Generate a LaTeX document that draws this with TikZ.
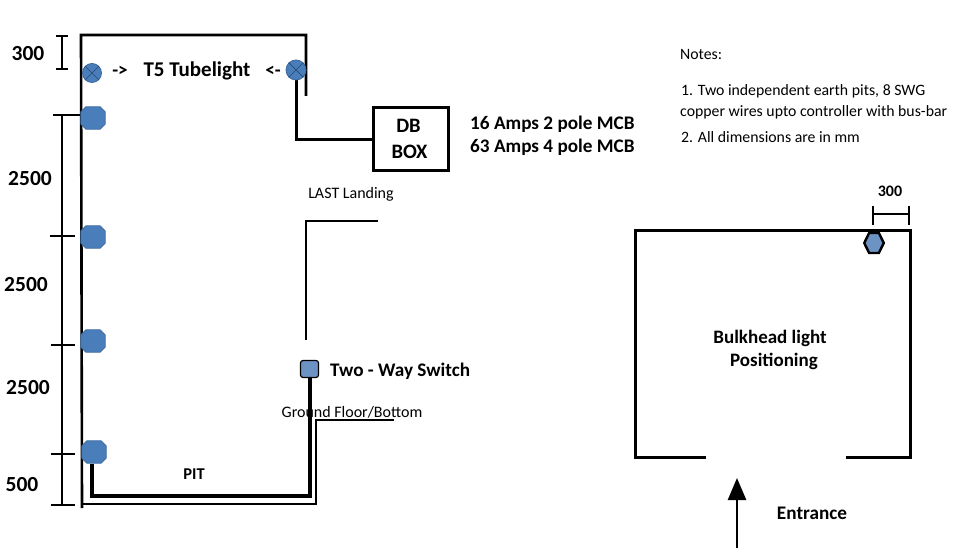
\documentclass[tikz,border=0pt]{standalone}
\usepackage{fontspec}
\setmainfont{Carlito}
\usetikzlibrary{shapes.geometric,shapes.misc,arrows.meta}
\definecolor{lampblue}{HTML}{4A7EBB}
\definecolor{swblue}{HTML}{6C93C4}
\definecolor{lampedge}{HTML}{3A679C}
\newcommand{\octalamp}[3]{%
  \node[minimum width=24pt,minimum height=22pt,inner sep=0pt] (#1) at (#2,#3) {};
  \filldraw[fill=lampblue,draw=lampedge,line width=.8pt]
    ([xshift=5pt]#1.north west) -- ([xshift=-5pt]#1.north east) -- ([yshift=-5pt]#1.north east)
    -- ([yshift=5pt]#1.south east) -- ([xshift=-5pt]#1.south east) -- ([xshift=5pt]#1.south west)
    -- ([yshift=5pt]#1.south west) -- ([yshift=-5pt]#1.north west) -- cycle;}
\tikzset{
  x=1pt,y=-1pt,
  wall/.style={draw=black,line width=2.6pt,line cap=butt,line join=miter},
  thinwall/.style={draw=black,line width=2pt},
  wire/.style={draw=black,line width=3.2pt},
  dbwire/.style={draw=black,line width=3pt},
  dim/.style={draw=black,line width=2pt},
  lbl/.style={font=\fontsize{19.2}{22}\selectfont\bfseries,inner sep=0pt},
  dimlbl/.style={font=\fontsize{21.5}{24}\selectfont\bfseries,inner sep=0pt},
  note/.style={font=\fontsize{15.8}{18}\selectfont,inner sep=0pt,anchor=west},
  small/.style={font=\fontsize{16}{18}\selectfont,inner sep=0pt},
}
\begin{document}
\begin{tikzpicture}
\useasboundingbox (0,0) rectangle (980,553);
% shaft
\coordinate (st) at (81,35);
\coordinate (srt) at (306,35);
\coordinate (srb) at (306,96);
\coordinate (slb) at (82,508);
\draw[wall] (slb) -- (st) -- (srt) -- (srb);
\coordinate (bl) at (82,504);
\coordinate (br) at (316,504);
\coordinate (bu) at (316,420);
\coordinate (be) at (394,420);
\draw[thinwall] (bl) -- (br) -- (bu) -- (be);
% last landing
\coordinate (ll1) at (306,340);
\coordinate (ll2) at (306,221);
\coordinate (ll3) at (378,221);
\draw[thinwall] (ll1) -- (ll2) -- (ll3);
% dims left
\coordinate (d1a) at (62,36); \coordinate (d1b) at (62,69);
\draw[dim] (d1a) -- (d1b);
\draw[dim] (56,36) -- (68,36) (56,69) -- (68,69);
\coordinate (d2a) at (62,115); \coordinate (d2b) at (62,505);
\draw[dim] (d2a) -- (d2b);
\draw[dim] (53,115) -- (80,115) (50,236) -- (75,236) (51,345) -- (75,345) (51,454) -- (75,454) (51,505) -- (75,505);
\node[dimlbl] (t300) at (28,54) {300};
\node[dimlbl] (t2500a) at (30,179) {2500};
\node[dimlbl] (t2500b) at (26,285) {2500};
\node[dimlbl] (t2500c) at (28,388) {2500};
\node[dimlbl] (t500) at (22,485) {500};
% wires
\node[draw=black,line width=2.8pt,minimum width=75pt,minimum height=63pt,inner sep=0pt,align=center,font=\fontsize{20.5}{26}\selectfont\bfseries] (db) at (411,139) {DB\kern5pt\\BOX\kern3pt};
\coordinate (w1) at (296,78);
\coordinate (w2) at (296,140);
\draw[dbwire] (w1) -- (w2) -- (db.west |- w2);
\node[rounded corners=2.5pt,draw=black,line width=1.2pt,fill=swblue,minimum width=18pt,minimum height=17pt,inner sep=0pt] (sw) at (309.5,369) {};
\coordinate (p1) at (92,464);
\coordinate (p2) at (92,496);
\coordinate (p3) at (310,496);
\draw[wire] (p1) -- (p2) -- (p3) -- (sw.south -| p3);
% lamps
\node[circle,fill=lampblue,draw=lampedge,line width=.8pt,minimum size=19pt,inner sep=0pt] (la) at (92,73) {};
\node[circle,fill=lampblue,draw=lampedge,line width=.8pt,minimum size=20pt,inner sep=0pt] (lb) at (296,70) {};
\draw[lampedge!70!black,line width=.7pt] (la.north west) -- (la.south east) (la.north east) -- (la.south west);
\draw[lampedge!70!black,line width=.7pt] (lb.north west) -- (lb.south east) (lb.north east) -- (lb.south west);
\octalamp{o1}{93}{118}
\octalamp{o2}{93}{237}
\octalamp{o3}{93}{341}
\octalamp{o4}{94}{452}
% labels
\node[lbl] at (120,71) {->};
\node[lbl,font=\fontsize{21}{24}\selectfont\bfseries] at (197,71) {T5 Tubelight};
\node[lbl] at (273,71) {<-};
\node[lbl,anchor=west] at (470,124) {16 Amps 2 pole MCB};
\node[lbl,anchor=west] at (470,147) {63 Amps 4 pole MCB};
\node[small] at (351,194) {LAST Landing};
\node[lbl,anchor=west] at (330,371) {Two - Way Switch};
\node[small] at (352,412) {Ground Floor/Bottom};
\node[font=\fontsize{16.5}{18}\selectfont\bfseries,inner sep=0pt] at (194,474) {PIT};
% notes
\node[note] at (680,54) {Notes:};
\node[note] at (681,91) {1. Two independent earth pits, 8 SWG};
\node[note] at (680,112) {copper wires upto controller with bus-bar};
\node[note] at (681,137) {2. All dimensions are in mm};
% room
\coordinate (r1) at (706,457);
\coordinate (r2) at (635,457);
\coordinate (r3) at (635,231);
\coordinate (r4) at (910,231);
\coordinate (r5) at (910,457);
\coordinate (r6) at (846,457);
\draw[wall,line width=3pt] (r1) -- (r2) -- (r3) -- (r4) -- (r5) -- (r6);
\node[regular polygon,regular polygon sides=6,shape border rotate=0,draw=black,line width=2.4pt,fill=swblue,minimum size=23pt,inner sep=0pt,xscale=.85] (hex) at (874,243) {};
\coordinate (h1) at (873,214); \coordinate (h2) at (909,214);
\draw[dim] (h1) -- (h2);
\draw[dim] (873,206) -- (873,225) (909,206) -- (909,225);
\node[font=\fontsize{16}{18}\selectfont\bfseries,inner sep=0pt] at (890,191) {300};
\node[font=\fontsize{19}{22}\selectfont\bfseries,inner sep=0pt] at (770,338) {Bulkhead light};
\node[font=\fontsize{19}{22}\selectfont\bfseries,inner sep=0pt] at (774,361) {Positioning};
\coordinate (a1) at (737,548);
\coordinate (a2) at (737,478);
\draw[wall,-{Triangle[length=22pt,width=18pt]}] (a1) -- (a2);
\node[lbl] at (812,513) {Entrance};
\end{tikzpicture}
\end{document}
